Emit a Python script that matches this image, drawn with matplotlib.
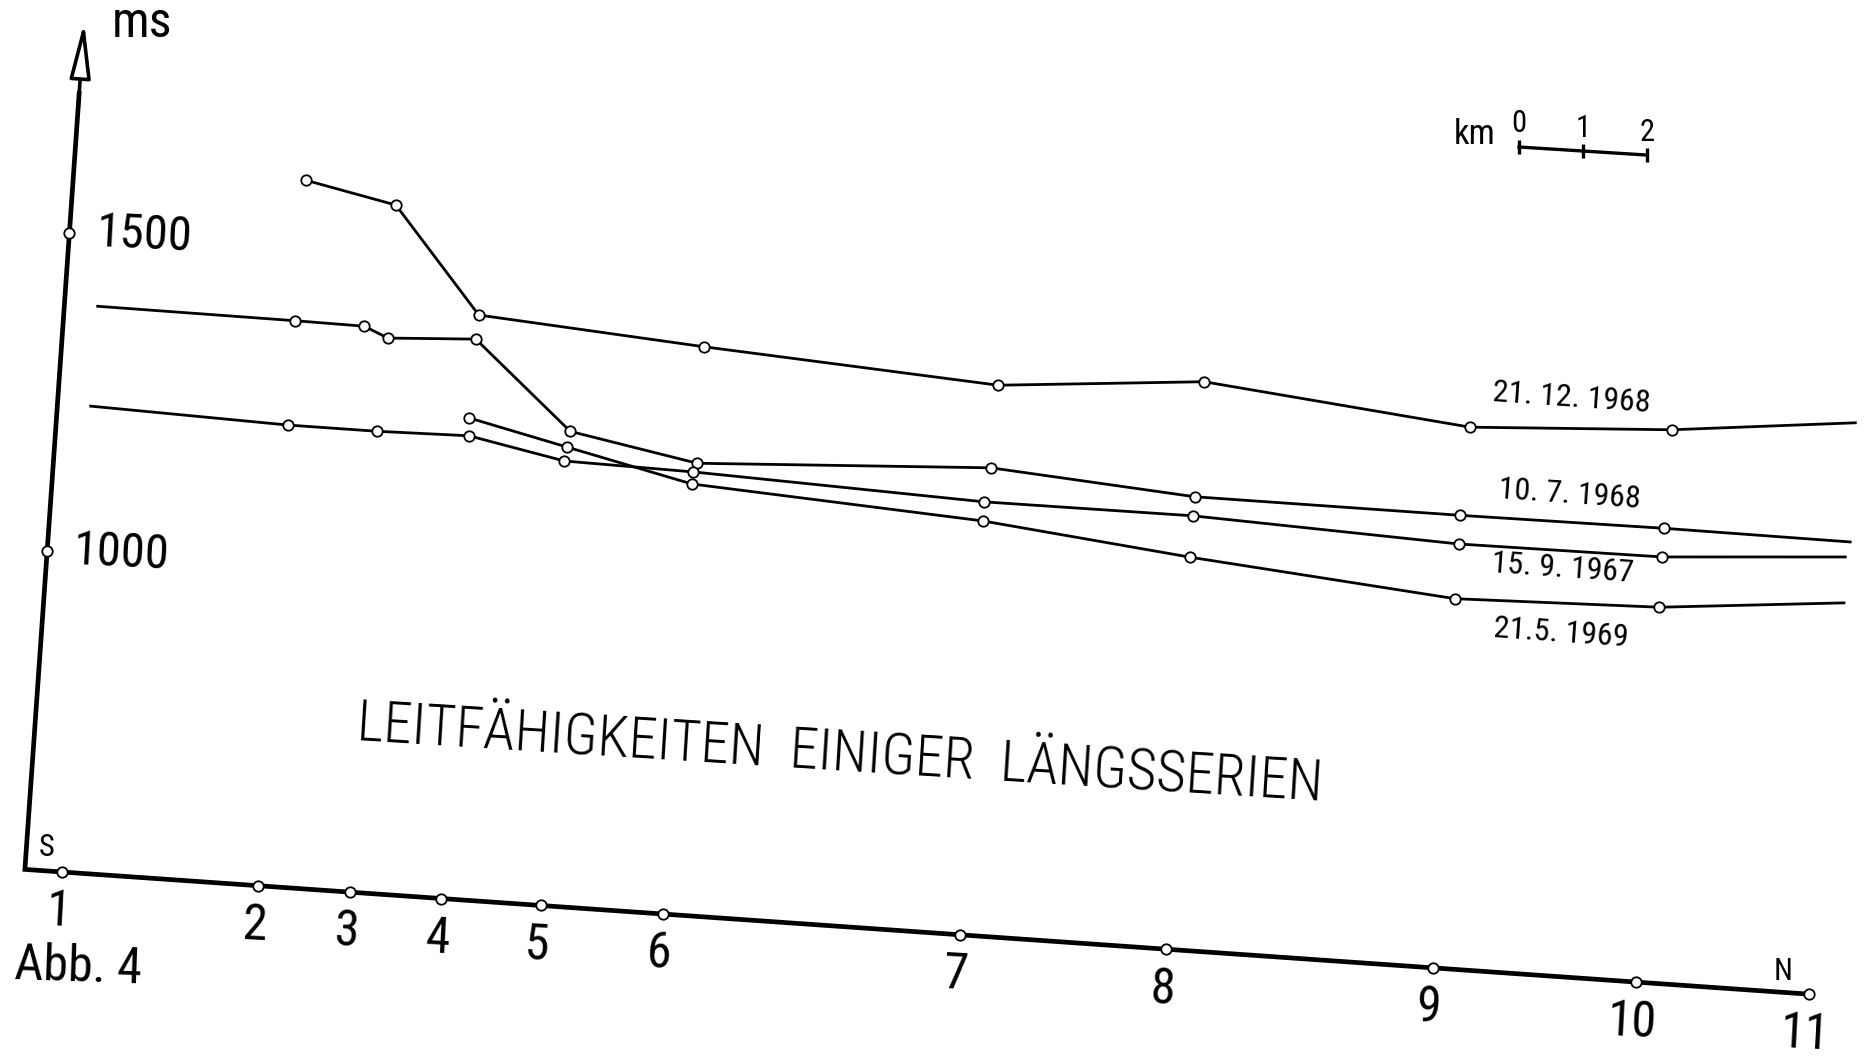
import matplotlib
matplotlib.use("Agg")
import matplotlib.pyplot as plt
from matplotlib import font_manager
from matplotlib.transforms import Affine2D, offset_copy

W, H = 1874, 1059

# narrow lettering: take the narrowest sans face that is installed
ttf = font_manager.fontManager.ttflist
names = {f.name for f in ttf}
stretch = 'normal'
if 'Liberation Sans Narrow' in names:
    family = 'Liberation Sans Narrow'
elif 'Roboto Condensed' in names:
    family = 'Roboto Condensed'
elif any(f.name == 'DejaVu Sans' and 'ondensed' in f.fname for f in ttf):
    family, stretch = 'DejaVu Sans', 'condensed'
else:
    family = 'Roboto'
plt.rcParams['font.family'] = [family, 'DejaVu Sans']
plt.rcParams['font.stretch'] = stretch

# stations along the profile (km from the southern end)
station_km = [0.58, 3.65, 5.09, 6.51, 8.07, 9.98, 14.63, 17.85, 22.02, 25.19, 27.9]
station_names = ["1", "2", "3", "4", "5", "6", "7", "8", "9", "10", "11"]
ms_ticks = [1000, 1500]
base_ms = 500

# conductivity series (km, ms)
dez68_km = [3.62, 5.05, 6.46, 10.0, 14.62, 17.82, 22.01, 25.15, 28.0]
dez68_ms = [1609, 1580, 1417, 1392, 1364, 1392, 1350, 1368, 1399]

jul68_km = [0.52, 3.61, 4.69, 5.07, 6.44, 8.01, 10.02, 14.6, 17.8, 21.95, 25.14, 28.05]
jul68_ms = [1389, 1388, 1387, 1371, 1379, 1245, 1209, 1234, 1211, 1211, 1213, 1212]

sep67_km = [0.52, 3.61, 5.0, 6.44, 7.95, 9.97, 14.53, 17.79, 21.96, 25.14, 27.99]
sep67_ms = [1232, 1224, 1224, 1227, 1198, 1195, 1180, 1181, 1166, 1168, 1188]

mai69_km = [6.42, 7.98, 9.96, 14.53, 17.79, 21.96, 25.15, 28.02]
mai69_ms = [1255, 1220, 1176, 1150, 1116, 1080, 1089, 1116]

fig = plt.figure(figsize=(W / 100, H / 100), dpi=100)
ax = fig.add_axes([0, 0, 1, 1])
ax.set_xlim(0, W)
ax.set_ylim(0, H)
ax.axis('off')

# the whole diagram is drawn tilted by a few degrees
px_per_km = 64.1
px_per_ms = 0.6376
frame = (Affine2D().translate(0, -base_ms).scale(px_per_km, px_per_ms)
         .rotate_deg(-4.0).translate(24.9, H - 869.4))
trans = frame + ax.transData

circle = dict(marker='o', mfc='white', mec='black', ms=7.5, mew=1.3)

# axes
ax.plot([0, 0, station_km[-1]], [1720, base_ms, base_ms], color='black',
        lw=3.4, solid_joinstyle='miter', transform=trans, zorder=2)
ax.annotate("", xy=(0, 1832), xytext=(0, 1700), xycoords=trans, textcoords=trans,
            arrowprops=dict(arrowstyle='-|>,head_length=1.7,head_width=0.32',
                            mutation_scale=20, lw=2.6, fc='white', ec='black',
                            shrinkA=0, shrinkB=0))
ax.plot(station_km, [base_ms] * len(station_km), ls='none', transform=trans,
        zorder=3, **circle)
ax.plot([0] * len(ms_ticks), ms_ticks, ls='none', transform=trans, zorder=3, **circle)

lab_off = offset_copy(trans, fig=fig, x=-4, y=-40, units='dots')
for km, name in zip(station_km, station_names):
    ax.text(km, base_ms, name, transform=lab_off, ha='center', va='center',
            fontsize=36, rotation=-3)

tick_off = offset_copy(trans, fig=fig, x=26, y=0, units='dots')
for v in ms_ticks:
    ax.text(0, v, str(v), transform=tick_off, ha='left', va='center',
            fontsize=35, rotation=-3, rotation_mode='anchor')

ms_off = offset_copy(trans, fig=fig, x=58, y=-15, units='dots')
ax.text(0, 1832, "ms", transform=ms_off, ha='center', va='baseline', fontsize=36)

# series
for xs, ys, first in [(dez68_km, dez68_ms, 0), (jul68_km, jul68_ms, 1),
                      (sep67_km, sep67_ms, 1), (mai69_km, mai69_ms, 0)]:
    ax.plot(xs, ys, color='black', lw=2, transform=trans,
            markevery=list(range(first, len(xs) - 1)), zorder=4, **circle)

# date labels
for x, y, txt in [(1572, 398, "21. 12. 1968"), (1570, 494, "10. 7. 1968"),
                  (1563, 568, "15. 9. 1967"), (1561, 633, "21.5. 1969")]:
    ax.text(x, H - y, txt, ha='center', va='center', fontsize=23, rotation=-4)

ax.text(840, H - 754, "LEITFÄHIGKEITEN  EINIGER  LÄNGSSERIEN", ha='center',
        va='center', fontsize=41, fontweight='light', rotation=-3.6)
ax.text(78, H - 967, "Abb. 4", ha='center', va='center', fontsize=36, rotation=-2)
ax.text(47, H - 847, "S", ha='center', va='center', fontsize=22)
ax.text(1783, H - 972, "N", ha='center', va='center', fontsize=22)

# km scale bar
bar_km = [0, 1, 2]
bar = Affine2D().scale(px_per_km, 1).rotate_deg(-3.6).translate(1519, H - 147) + ax.transData
ax.plot(bar_km, [0] * 3, color='black', lw=2.4, marker='|', ms=9.5, mew=2.4,
        transform=bar)
bar_lab = offset_copy(bar, fig=fig, x=0, y=23, units='dots')
for k in bar_km:
    ax.text(k, 0, str(k), transform=bar_lab, ha='center', va='center', fontsize=22)
ax.text(1475, H - 135, "km", ha='center', va='center', fontsize=25)

fig.savefig("out.png", dpi=100, facecolor='white')
